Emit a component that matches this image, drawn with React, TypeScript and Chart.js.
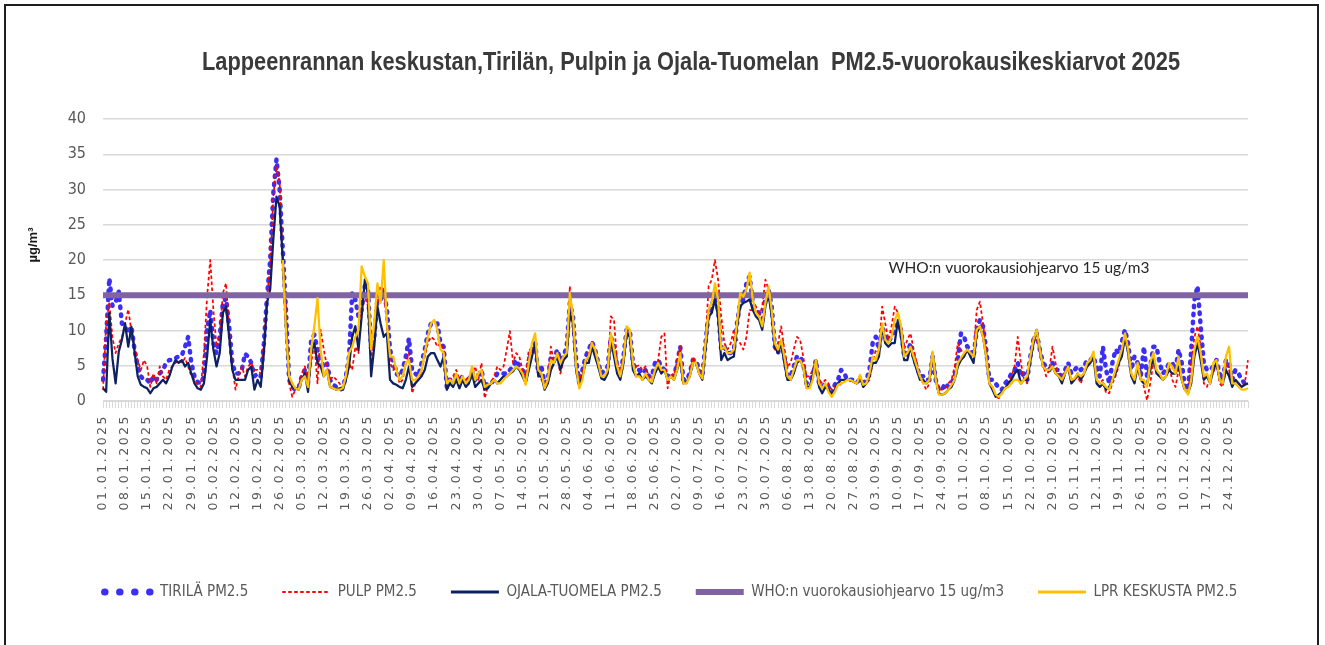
import React, { useEffect, useRef } from 'react';
import { Chart, registerables } from 'chart.js';

Chart.register(...registerables);

// ---------- categories ----------
const YEAR = 2025;
const DAY_COUNT = 364; // 01.01.2025 ... 30.12.2025
const dateLabels: string[] = Array.from({ length: DAY_COUNT }, (_, i) => {
  const d = new Date(Date.UTC(YEAR, 0, 1 + i));
  const dd = String(d.getUTCDate()).padStart(2, '0');
  const mm = String(d.getUTCMonth() + 1).padStart(2, '0');
  return `${dd}.${mm}.${d.getUTCFullYear()}`;
});
const LABEL_EVERY = 7;

// ---------- series (µg/m³, daily means) ----------
const tirila: number[] = [
  3.0, 9, 17.4, 13.5, 14, 15.5, 11, 10.5, 9.6, 10.6,
  7.3, 4.9, 3.5, 3.0, 3.0, 2.5, 3.5, 3.0, 3.9, 4.4,
  5.4, 5.8, 5.8, 6.1, 6.3, 6.5, 7.7, 9.1, 5.4, 3.5,
  2.7, 2.5, 3.5, 10.1, 12.9, 8.2, 6.8, 9.1, 13.9, 14.6,
  10.6, 5.4, 3.9, 3.9, 4.4, 6.7, 6.3, 5.4, 3.5, 3.9,
  3.5, 8.2, 14.8, 20, 29.5, 34.3, 30, 21.5, 12.9, 3.0,
  2.0, 1.6, 1.8, 3.5, 4.4, 2.5, 8.7, 9.4, 7.3, 5.8,
  4.9, 5.4, 3.0, 2.3, 2.0, 1.6, 1.8, 3.5, 6.3, 15.3,
  14.4, 12, 12.9, 16.3, 15.8, 7.3, 9.1, 14.4, 14.4, 15.8,
  13, 7.3, 5.4, 3.9, 3.5, 4.4, 6.3, 8.9, 4.4, 3.9,
  3.5, 5.4, 7.3, 9.6, 11, 11, 11, 8.2, 7.7, 2.0,
  3.0, 3.0, 3.5, 3.0, 3.5, 2.5, 3.0, 4.2, 3.0, 3.5,
  4.4, 2.0, 2.5, 2.5, 3.0, 3.9, 3.9, 3.9, 3.9, 4.4,
  4.9, 5.8, 4.9, 4.4, 3.0, 5.8, 7.3, 8.2, 3.9, 4.9,
  2.5, 3.0, 6.3, 5.8, 7.3, 5.8, 6.3, 7.7, 13.9, 12,
  5.8, 2.5, 4.4, 6.3, 7.3, 8.4, 7.3, 5.4, 3.9, 4.4,
  4.9, 9.1, 7.7, 4.9, 3.9, 6.3, 10.1, 10.1, 5.4, 4.4,
  4.4, 3.9, 4.4, 3.5, 3.5, 5.4, 5.8, 4.9, 4.4, 3.5,
  3.9, 3.5, 5.4, 7.7, 3.0, 3.0, 3.9, 5.8, 5.8, 4.4,
  3.5, 8.2, 12.5, 13.4, 15.3, 12.9, 7.3, 7.7, 6.8, 6.8,
  7.3, 11, 13.9, 14.4, 16.7, 17.7, 13.9, 12.9, 12.5, 11,
  14.8, 15.8, 13.4, 7.7, 6.8, 8.7, 6.3, 3.5, 3.5, 4.9,
  6.3, 6.3, 5.4, 2.5, 3.0, 3.5, 5.8, 2.5, 2.0, 2.5,
  2.0, 1.1, 2.3, 3.0, 4.4, 3.9, 3.0, 3.0, 3.0, 2.7,
  3.0, 2.5, 3.0, 4.4, 8.2, 9.1, 7.3, 10.6, 9.1, 8.4,
  9.1, 10.1, 11, 10.1, 6.3, 6.8, 8.2, 6.3, 4.9, 3.5,
  3.5, 3.0, 3.0, 6.3, 3.0, 1.6, 1.6, 2.5, 2.0, 2.5,
  3.5, 5.8, 9.6, 9.1, 7.7, 7.3, 6.3, 10.1, 11.5, 10.6,
  7.3, 3.0, 3.0, 2.5, 1.8, 1.6, 2.5, 3.0, 3.9, 4.4,
  5.4, 3.5, 3.9, 3.0, 6.3, 8.7, 9.6, 7.3, 5.4, 4.9,
  4.4, 5.4, 4.4, 4.4, 3.0, 4.4, 5.4, 3.9, 4.4, 4.9,
  4.4, 4.9, 5.8, 5.8, 6.3, 4.9, 3.5, 7.7, 4.4, 2.5,
  5.4, 7.3, 6.8, 8.4, 10.1, 8.2, 4.4, 6.3, 5.4, 3.5,
  7.7, 3.5, 4.9, 7.7, 7.7, 5.4, 3.9, 4.4, 5.4, 5.4,
  4.4, 7.3, 5.4, 2.0, 1.6, 7.3, 14.3, 16.3, 10.6, 5.4,
  4.4, 4.4, 4.9, 5.8, 3.9, 3.0, 5.8, 5.4, 3.0, 4.4,
  3.9, 3.0, 2.5, 2.5,
];

const pulp: number[] = [
  1.6, 11, 14, 9, 6.8, 8.2, 9, 11, 13, 10,
  7.7, 5.8, 4.4, 5.8, 4.9, 2.0, 3.9, 2.5, 4.9, 3.5,
  3.0, 4.4, 4.9, 5.4, 5.8, 5.4, 6.1, 4.9, 3.5, 3.0,
  2.3, 2.0, 6.8, 14.8, 20, 12.9, 7.7, 9.1, 15.3, 16.7,
  10.1, 4.9, 1.6, 3.5, 4.9, 3.5, 4.9, 5.4, 4.4, 4.4,
  3.9, 8.2, 14.8, 19, 29, 33.3, 31, 20, 13.4, 2.5,
  0.6, 1.6, 2.0, 3.9, 4.9, 2.5, 5.4, 8.2, 2.5, 10.1,
  7.3, 4.9, 3.0, 3.5, 3.0, 2.5, 1.8, 3.5, 5.4, 4.4,
  7.7, 6.8, 14.4, 14.8, 13.4, 5.4, 10.6, 13.9, 16.3, 15.8,
  11, 5.4, 4.4, 4.9, 2.5, 3.0, 5.4, 6.8, 1.1, 2.5,
  3.0, 4.4, 6.3, 8.2, 9.1, 8.7, 7.7, 8.2, 7.3, 1.6,
  3.0, 3.5, 4.4, 3.0, 3.0, 3.0, 3.5, 3.9, 4.9, 3.0,
  5.4, 0.4, 2.0, 2.5, 3.5, 4.9, 4.4, 4.9, 7.3, 9.9,
  5.4, 6.8, 6.3, 4.4, 3.5, 7.3, 7.3, 7.3, 4.4, 3.0,
  2.5, 3.0, 7.7, 5.4, 6.3, 3.9, 5.8, 6.3, 16.3, 10.6,
  4.4, 3.0, 4.4, 5.4, 6.8, 8.4, 7.3, 4.9, 3.5, 3.5,
  3.9, 12, 11.5, 5.4, 4.4, 5.8, 10.1, 9.6, 4.9, 4.9,
  5.1, 4.4, 4.9, 3.5, 3.0, 4.4, 5.8, 9.1, 9.6, 1.8,
  3.9, 3.5, 5.8, 7.7, 2.5, 2.5, 3.9, 6.3, 5.4, 4.4,
  3.5, 8.2, 16.3, 17.2, 20, 17.2, 12, 8.2, 7.3, 8.2,
  10.1, 8.7, 8.2, 7.3, 9.1, 12.9, 12.9, 13.4, 12, 13.4,
  17.2, 15.8, 12.5, 7.3, 8.2, 10.6, 7.3, 4.9, 5.4, 7.3,
  9.1, 8.7, 6.3, 3.5, 3.5, 4.4, 5.8, 3.0, 2.5, 3.0,
  2.5, 1.6, 2.0, 2.0, 2.5, 3.0, 3.0, 3.0, 2.7, 2.5,
  3.0, 2.3, 2.5, 3.0, 5.4, 7.3, 6.8, 13.4, 11, 8.7,
  10.6, 13.4, 12.5, 10.6, 7.3, 8.7, 9.6, 7.3, 5.4, 3.5,
  2.5, 1.6, 2.5, 6.3, 3.5, 1.6, 1.6, 1.8, 2.5, 3.0,
  4.9, 8.2, 7.3, 6.3, 7.3, 6.3, 6.8, 12.9, 14.1, 11,
  7.3, 2.5, 2.0, 0.6, 0.4, 1.1, 1.8, 2.5, 3.5, 4.9,
  9.1, 5.4, 3.0, 2.5, 6.3, 9.1, 9.1, 6.8, 5.4, 3.5,
  4.4, 7.7, 5.4, 3.5, 3.0, 4.4, 4.4, 3.0, 3.0, 3.5,
  2.5, 3.9, 4.9, 5.4, 6.3, 3.0, 2.5, 3.0, 1.1, 1.1,
  2.5, 3.5, 4.9, 6.8, 9.1, 7.7, 3.9, 2.5, 4.9, 3.5,
  2.0, 0.1, 2.5, 5.4, 4.4, 3.5, 3.0, 3.5, 4.9, 3.0,
  2.0, 4.4, 3.0, 1.6, 1.1, 5.4, 9.1, 10.6, 7.7, 2.5,
  2.0, 3.5, 3.9, 5.4, 2.5, 2.0, 5.4, 4.4, 2.5, 3.0,
  2.5, 2.0, 2.5, 5.8,
];

const ojala: number[] = [
  1.8, 1.3, 12.5, 6, 2.5, 7, 8.7, 11, 7.7, 10.5,
  7, 3.5, 2.3, 2.0, 1.8, 1.1, 1.8, 2.0, 2.5, 3.0,
  2.5, 3.5, 4.9, 5.8, 5.4, 5.8, 4.9, 5.4, 3.9, 2.5,
  1.8, 1.6, 2.5, 6.3, 11.5, 7.3, 4.9, 6.8, 12.5, 13.4,
  9.1, 4.4, 3.0, 3.0, 3.0, 3.0, 4.4, 4.9, 1.6, 3.0,
  2.0, 6.8, 13.9, 15.8, 23, 29, 27.6, 20, 10.6, 3.0,
  2.0, 1.8, 1.6, 3.0, 3.9, 1.3, 6.8, 8.2, 5.4, 4.9,
  3.5, 4.4, 2.0, 1.8, 1.6, 1.8, 1.6, 3.0, 4.9, 9.1,
  10.6, 7.3, 12, 17.2, 15.3, 3.5, 7.7, 13.4, 11, 9.1,
  9.6, 3.0, 2.5, 2.3, 2.0, 1.8, 3.0, 4.9, 2.0, 2.5,
  3.0, 3.5, 4.4, 6.3, 6.8, 6.8, 5.8, 4.9, 6.3, 1.6,
  2.5, 2.0, 3.0, 1.8, 3.0, 2.0, 2.5, 3.9, 2.0, 2.5,
  3.0, 1.6, 1.8, 2.5, 3.0, 2.5, 3.0, 3.5, 3.5, 3.9,
  4.2, 4.9, 4.4, 3.5, 2.5, 4.4, 6.3, 8.2, 3.5, 3.5,
  1.6, 2.5, 4.4, 5.4, 6.3, 4.4, 5.8, 6.3, 12.5, 11,
  4.4, 2.0, 3.5, 5.4, 5.4, 7.7, 6.3, 4.9, 3.2, 3.0,
  3.9, 8.7, 6.3, 3.9, 3.0, 5.4, 9.6, 9.1, 4.4, 3.5,
  3.9, 3.0, 3.5, 3.0, 2.5, 3.9, 4.9, 3.9, 4.4, 3.0,
  3.5, 3.0, 4.4, 5.8, 2.5, 2.7, 3.5, 5.4, 5.4, 3.9,
  3.0, 7.3, 12, 12.5, 14.4, 12, 5.8, 6.8, 5.8, 6.1,
  6.3, 10.6, 13.4, 13.9, 14.1, 14.4, 12.9, 12, 11.5, 10.1,
  13.4, 15.2, 12, 7.7, 6.8, 8.2, 5.4, 3.0, 3.0, 3.9,
  5.4, 5.8, 4.9, 2.0, 2.0, 3.5, 5.8, 2.0, 1.1, 2.0,
  1.6, 0.9, 1.6, 2.5, 3.0, 3.0, 3.0, 3.0, 2.7, 2.5,
  3.5, 2.0, 2.5, 3.5, 5.4, 5.4, 6.3, 10.6, 8.2, 7.7,
  8.2, 8.2, 11.5, 9.1, 5.8, 5.8, 7.7, 5.8, 4.4, 3.0,
  3.0, 2.5, 3.0, 6.8, 3.0, 1.1, 0.9, 1.1, 1.6, 2.0,
  3.0, 4.9, 5.8, 6.3, 7.3, 6.3, 5.4, 9.6, 10.6, 9.1,
  6.3, 2.5, 1.6, 0.6, 0.9, 1.3, 1.8, 2.5, 3.0, 3.9,
  4.4, 2.5, 3.0, 3.0, 5.7, 8.2, 10.1, 7.3, 4.9, 4.4,
  4.4, 4.9, 3.9, 3.5, 2.5, 3.9, 4.9, 2.5, 3.0, 3.9,
  3.0, 3.9, 4.9, 5.4, 6.3, 2.5, 2.0, 2.5, 1.6, 2.0,
  3.0, 3.9, 5.4, 6.3, 9.1, 6.8, 3.5, 2.5, 4.9, 3.0,
  2.5, 2.5, 4.4, 6.3, 3.9, 3.5, 3.0, 3.5, 4.4, 3.9,
  3.9, 4.9, 3.0, 1.6, 1.1, 2.5, 6.3, 8.2, 5.8, 3.0,
  3.5, 2.5, 4.4, 5.4, 3.0, 2.5, 4.4, 3.5, 2.0, 3.0,
  2.5, 2.0, 2.3, 2.5,
];

// LPR keskusta starts reporting on 27.02.2025
const lprKeskusta: (number | null)[] = [
  ...Array(57).fill(null),
  20, 10.1, 3.5,
  2.5, 1.8, 1.6, 3.0, 3.5, 2.0, 7.3, 10.6, 14.6, 7.3,
  3.5, 4.4, 2.0, 1.8, 1.6, 1.6, 1.8, 3.5, 6.8, 7.7,
  9.1, 10.1, 19.1, 17.7, 16.7, 7.3, 11, 16.7, 13.9, 20,
  11, 6.3, 6.3, 4.4, 3.0, 3.5, 5.4, 5.8, 3.0, 3.0,
  3.5, 4.4, 6.8, 9.1, 11, 11.5, 10.1, 7.3, 6.8, 2.5,
  3.0, 2.5, 3.9, 2.5, 3.5, 2.5, 3.0, 4.9, 3.0, 3.9,
  4.4, 2.0, 2.3, 2.5, 3.0, 2.5, 2.5, 3.0, 3.5, 3.9,
  4.4, 4.9, 4.6, 3.9, 2.3, 5.4, 8.2, 9.6, 4.4, 3.9,
  1.8, 3.0, 5.8, 5.4, 6.8, 5.4, 6.3, 6.8, 15.3, 12,
  4.9, 1.8, 3.0, 5.8, 6.3, 8.2, 7.3, 5.4, 3.5, 3.5,
  4.4, 9.6, 7.3, 4.9, 3.5, 5.8, 10.6, 10.1, 5.4, 3.5,
  3.5, 3.0, 3.9, 3.0, 2.7, 4.4, 5.4, 4.4, 4.4, 3.0,
  3.5, 3.0, 4.4, 6.8, 2.5, 2.5, 3.5, 5.4, 5.4, 3.9,
  3.2, 8.2, 12.9, 13.9, 16.7, 14.4, 7.3, 7.7, 6.8, 6.8,
  7.3, 11, 15.3, 14.8, 15.8, 18.2, 14.4, 12.5, 12, 10.6,
  13.9, 16.3, 12.9, 8.2, 7.3, 8.7, 6.3, 3.5, 3.0, 4.4,
  5.8, 5.8, 4.9, 1.8, 1.8, 3.0, 5.8, 2.5, 1.8, 2.5,
  1.3, 0.6, 1.3, 2.3, 2.5, 2.7, 3.0, 3.0, 2.7, 2.5,
  3.7, 2.3, 2.5, 3.9, 6.3, 5.8, 7.3, 11, 8.7, 8.2,
  9.1, 11.5, 12.5, 10.6, 6.3, 6.8, 7.7, 6.3, 4.9, 3.5,
  2.5, 2.5, 3.0, 7.0, 3.0, 0.9, 0.9, 1.1, 1.6, 2.3,
  3.0, 5.4, 6.1, 6.8, 7.3, 6.8, 6.3, 10.1, 10.6, 9.1,
  6.3, 2.5, 2.0, 0.9, 0.6, 1.1, 1.8, 2.0, 2.5, 3.0,
  3.0, 2.5, 3.0, 3.5, 6.3, 8.7, 10.1, 7.3, 4.9, 4.4,
  4.4, 4.9, 3.9, 3.5, 3.0, 3.9, 4.9, 3.0, 3.2, 3.9,
  3.5, 3.9, 5.4, 5.8, 7.0, 3.0, 2.5, 2.5, 2.0, 1.6,
  3.0, 4.4, 5.8, 7.3, 9.6, 7.3, 3.9, 3.0, 5.4, 3.0,
  3.0, 2.0, 5.4, 6.8, 4.4, 3.9, 3.0, 3.5, 5.4, 4.9,
  3.9, 6.3, 3.0, 1.6, 0.9, 3.0, 7.3, 9.1, 6.8, 3.5,
  3.9, 2.5, 5.4, 5.8, 3.0, 2.5, 6.3, 7.7, 2.5, 2.5,
  2.0, 1.6, 1.6, 1.8,
];

const WHO_LIMIT = 15;
const whoLine: number[] = Array(DAY_COUNT).fill(WHO_LIMIT);

// ---------- texts ----------
const TITLE = 'Lappeenrannan keskustan,Tirilän, Pulpin ja Ojala-Tuomelan  PM2.5-vuorokausikeskiarvot 2025';
const Y_TITLE = 'µg/m³';
const WHO_TEXT = 'WHO:n vuorokausiohjearvo 15 ug/m3';
const WHO_TEXT_DAY = 249;
const WHO_TEXT_VALUE = 18.9;

const NARROW = "'Liberation Sans Narrow', 'DejaVu Sans Condensed', 'Liberation Sans', sans-serif";

const seriesStyles = [
  { label: 'TIRILÄ PM2.5', data: tirila, color: '#3B2EF5', width: 4.5, dash: [1.5, 6.5], cap: 'round', order: 5, legendWidth: 7, legendDash: [0.5, 14.5] },
  { label: 'PULP PM2.5', data: pulp, color: '#FF0000', width: 1.75, dash: [3.5, 2.5], cap: 'butt', order: 4, legendWidth: 2, legendDash: [3.5, 2.5] },
  { label: 'OJALA-TUOMELA PM2.5', data: ojala, color: '#0E2160', width: 2.25, dash: [], cap: 'butt', order: 3, legendWidth: 3, legendDash: [] },
  { label: WHO_TEXT, data: whoLine, color: '#8064A2', width: 6, dash: [], cap: 'butt', order: 2, legendWidth: 6, legendDash: [] },
  { label: 'LPR KESKUSTA PM2.5', data: lprKeskusta, color: '#FFC000', width: 2.25, dash: [], cap: 'butt', order: 1, legendWidth: 3, legendDash: [] },
];

const overlayPlugin = {
  id: 'overlayTexts',
  afterDatasetsDraw(chart: any) {
    // x tick labels (z = 1) are drawn right after this hook
    (chart.ctx as any).letterSpacing = '2.5px';
  },
  afterDraw(chart: any) {
    const ctx = chart.ctx as CanvasRenderingContext2D;
    (ctx as any).letterSpacing = '0px';

    // title
    ctx.save();
    ctx.font = "bold 25px 'Liberation Sans', Arial, sans-serif";
    ctx.fillStyle = '#3A3A3A';
    ctx.textAlign = 'left';
    ctx.textBaseline = 'alphabetic';
    const tw = ctx.measureText(TITLE).width;
    ctx.translate(202, 70);
    ctx.scale(978 / tw, 1);
    ctx.fillText(TITLE, 0, 0);
    ctx.restore();

    // y axis title
    ctx.save();
    ctx.font = "bold 13px 'Liberation Sans', Arial, sans-serif";
    ctx.fillStyle = '#1A1A1A';
    ctx.translate(33, 245);
    ctx.rotate(-Math.PI / 2);
    ctx.textAlign = 'center';
    ctx.textBaseline = 'middle';
    ctx.fillText(Y_TITLE, 0, 0);
    ctx.restore();

    // WHO data label
    const xs = chart.scales.x;
    const ys = chart.scales.y;
    ctx.save();
    ctx.font = "16px Lato, 'Liberation Sans', sans-serif";
    ctx.fillStyle = '#262626';
    ctx.textAlign = 'left';
    ctx.textBaseline = 'middle';
    const ww = ctx.measureText(WHO_TEXT).width;
    ctx.translate(xs.getPixelForValue(WHO_TEXT_DAY), ys.getPixelForValue(WHO_TEXT_VALUE));
    ctx.scale(261 / ww, 1);
    ctx.fillText(WHO_TEXT, 0, 0);
    ctx.restore();
  },
};

export default function App() {
  const canvasRef = useRef<HTMLCanvasElement | null>(null);

  useEffect(() => {
    if (!canvasRef.current) return;
    const chart = new Chart(canvasRef.current, {
      type: 'line',
      data: {
        labels: dateLabels,
        datasets: seriesStyles.map((s) => ({
          label: s.label,
          data: s.data as any,
          borderColor: s.color,
          backgroundColor: s.color,
          borderWidth: s.width,
          borderDash: s.dash,
          borderCapStyle: s.cap as any,
          borderJoinStyle: 'round' as any,
          pointRadius: 0,
          pointHoverRadius: 0,
          fill: false,
          tension: 0,
          order: s.order,
          spanGaps: false,
          yAxisID: 'y',
        })),
      },
      options: {
        animation: false,
        responsive: false,
        events: [],
        layout: { padding: { top: 119, left: 43, right: 26, bottom: 35.5 } },
        plugins: {
          title: { display: false },
          tooltip: { enabled: false },
          legend: {
            display: true,
            position: 'bottom',
            align: 'center',
            labels: {
              usePointStyle: true,
              pointStyleWidth: 48,
              padding: 34,
              color: '#595959',
              font: { family: NARROW, size: 15 },
              generateLabels: () =>
                seriesStyles.map((s, i) => ({
                  text: s.label,
                  fillStyle: 'rgba(0,0,0,0)',
                  strokeStyle: s.color,
                  lineWidth: s.legendWidth,
                  lineDash: s.legendDash,
                  lineCap: s.cap as any,
                  pointStyle: 'line',
                  hidden: false,
                  datasetIndex: i,
                  fontColor: '#595959',
                })),
            },
          },
        },
        scales: {
          x: {
            type: 'category',
            offset: false,
            grid: { drawOnChartArea: false, drawTicks: true, tickLength: 7, color: '#D9D9D9', lineWidth: 1 },
            border: { display: true, color: '#D9D9D9', width: 1 },
            ticks: {
              autoSkip: false,
              maxRotation: 90,
              minRotation: 90,
              padding: 6,
              color: '#595959',
              z: 1,
              font: { family: "'DejaVu Sans', sans-serif", size: 12.5 },
              callback: (_v: any, i: number) => (i % LABEL_EVERY === 0 ? dateLabels[i] : ''),
            },
            afterFit: (s: any) => {
              s.height = 149.5;
              s.paddingLeft = 0;
              s.paddingRight = 0;
            },
          },
          y: {
            position: 'left',
            min: 0,
            max: 40,
            ticks: { stepSize: 5, padding: 17, color: '#595959', font: { family: NARROW, size: 16 } },
            grid: { color: '#D9D9D9', lineWidth: 1.5, drawTicks: false },
            border: { display: false },
            afterFit: (s: any) => {
              s.width = 60;
              s.paddingTop = 0;
              s.paddingBottom = 0;
            },
          },
          spacer: {
            type: 'linear',
            position: 'right',
            display: true,
            grid: { display: false, drawTicks: false },
            border: { display: false },
            ticks: { display: false },
            afterFit: (s: any) => {
              s.width = 51;
              s.paddingTop = 0;
              s.paddingBottom = 0;
            },
          },
        },
      },
      plugins: [overlayPlugin],
    });
    return () => chart.destroy();
  }, []);

  return (
    <div style={{ position: 'fixed', left: 0, top: 0, width: 1325, height: 645, overflow: 'hidden', background: '#FFFFFF' }}>
      <div
        style={{
          position: 'absolute',
          left: 4,
          top: 4,
          width: 1315,
          height: 700,
          border: '2px solid #1E1E1E',
          boxSizing: 'border-box',
        }}
      />
      <canvas ref={canvasRef} width={1325} height={645} style={{ position: 'absolute', left: 0, top: 0, width: 1325, height: 645 }} />
    </div>
  );
}
